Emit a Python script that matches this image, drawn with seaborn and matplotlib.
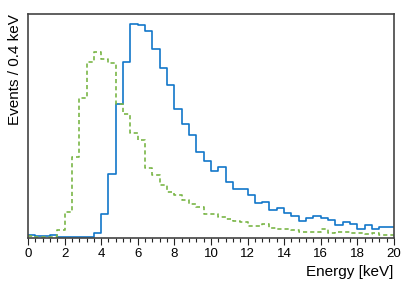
import numpy as np
import pandas as pd
import matplotlib
matplotlib.use("Agg")
import matplotlib.pyplot as plt
import seaborn as sns
from matplotlib.ticker import MultipleLocator

# bin edges: 0..20 keV in 0.4 keV bins
bin_width = 0.4
bin_centers = np.arange(50) * bin_width + bin_width / 2

# solid blue spectrum (arbitrary units)
blue_counts = [
    2.7, 2.0, 2.0, 3.5, 1.3, 0.7, 0.7, 0.7, 0.7, 5.0,
    23.7, 64.0, 133.7, 176.0, 213.7, 212.7, 206.7, 189.3, 169.7, 153.3,
    128.7, 114.0, 103.0, 86.3, 77.0, 67.0, 71.3, 55.7, 49.0, 49.0,
    43.0, 35.3, 36.3, 28.0, 29.7, 24.7, 22.3, 17.3, 20.3, 22.3,
    20.3, 18.0, 13.0, 16.3, 14.0, 9.3, 12.7, 8.7, 11.3, 11.3,
]

# dashed green spectrum
green_counts = [
    2.3, 1.3, 1.3, 1.3, 8.0, 26.3, 81.3, 139.7, 176.0, 186.3,
    178.7, 174.7, 133.7, 124.0, 104.7, 98.0, 69.7, 63.0, 53.0, 45.7,
    43.0, 38.0, 34.0, 30.7, 24.0, 24.0, 21.3, 18.7, 17.0, 15.7,
    12.3, 12.3, 13.7, 10.3, 9.3, 9.3, 8.0, 5.7, 5.7, 5.7,
    9.3, 5.0, 6.0, 5.7, 5.0, 5.0, 4.5, 5.0, 3.3, 3.3,
]

df = pd.DataFrame({
    "energy": np.concatenate([bin_centers, bin_centers]),
    "counts": blue_counts + green_counts,
    "sample": ["blue"] * 50 + ["green"] * 50,
})

plt.rcParams["font.family"] = ["Liberation Sans", "DejaVu Sans"]

fig = plt.figure(figsize=(4.15, 2.82), dpi=100)
ax = fig.add_axes([0.0675, 0.156, 0.8815, 0.794])

sns.histplot(data=df[df["sample"] == "blue"], x="energy", weights="counts",
             bins=50, binrange=(0, 20), element="step", fill=False,
             color="#1277c9", linewidth=1.2, ax=ax)
sns.histplot(data=df[df["sample"] == "green"], x="energy", weights="counts",
             bins=50, binrange=(0, 20), element="step", fill=False,
             color="#7ab648", linewidth=1.2, linestyle=(0, (2.5, 1.8)), ax=ax)

ax.set_xlim(0, 20)
ax.set_ylim(0, 224)
ax.xaxis.set_major_locator(MultipleLocator(2))
ax.xaxis.set_minor_locator(MultipleLocator(0.4))
ax.tick_params(axis="x", which="major", length=5, width=0.8, labelsize=9.5, pad=2, color="#222222")
ax.tick_params(axis="x", which="minor", length=3, width=0.8, color="#222222")
ax.set_yticks([])
for s in ax.spines.values():
    s.set_color("#444444")
    s.set_linewidth(1.2)

ax.set_xlabel("Energy [keV]", loc="right", fontsize=11)
ax.set_ylabel("Events / 0.4 keV", loc="top", fontsize=11, labelpad=4)

fig.savefig("out.png", dpi=100)
